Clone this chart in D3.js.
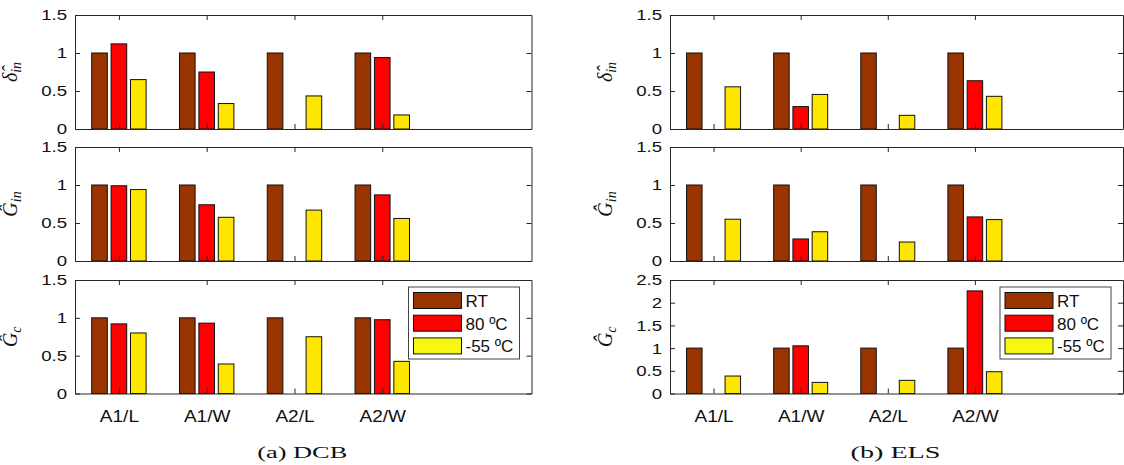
<!DOCTYPE html>
<html><head><meta charset="utf-8">
<script src="https://cdn.jsdelivr.net/npm/d3@7"></script>
<style>body{margin:0;background:#fff}svg{display:block}</style>
</head><body>
<svg id="c" width="1124" height="465"></svg>
<script>
// ---- data ----
const categories = ["A1/L", "A1/W", "A2/L", "A2/W"];
const seriesNames = ["RT", "80 ºC", "-55 ºC"];
const seriesColors = ["#993300", "#ff0000", "#ffe600"];
const legendColors = ["#993300", "#ff0000", "#f7f716"];
// values per category: [RT, 80 ºC, -55 ºC]
const dcbDeltaIn = [[1, 1.12, 0.65], [1, 0.75, 0.335], [1, 0, 0.435], [1, 0.94, 0.185]];
const dcbGin     = [[1, 0.99, 0.94], [1, 0.74, 0.575], [1, 0, 0.67], [1, 0.87, 0.56]];
const dcbGc      = [[1, 0.92, 0.80], [1, 0.93, 0.39], [1, 0, 0.75], [1, 0.975, 0.425]];
const elsDeltaIn = [[1, 0, 0.555], [1, 0.295, 0.455], [1, 0, 0.18], [1, 0.635, 0.43]];
const elsGin     = [[1, 0, 0.55], [1, 0.29, 0.385], [1, 0, 0.25], [1, 0.58, 0.545]];
const elsGc      = [[1, 0, 0.385], [1, 1.05, 0.245], [1, 0, 0.29], [1, 2.26, 0.48]];
const yTicksSmall = [0, 0.5, 1, 1.5];
const yTicksLarge = [0, 0.5, 1, 1.5, 2, 2.5];
const captions = ["(a) DCB", "(b) ELS"];

// ---- layout ----
const cols = [[75, 531.5], [670, 1123]];
const rows = [[15, 129], [147, 261], [280, 393.5]];
const panels = [
  {col: 0, row: 0, data: dcbDeltaIn, ticks: yTicksSmall, label: "delta"},
  {col: 0, row: 1, data: dcbGin, ticks: yTicksSmall, label: "gin"},
  {col: 0, row: 2, data: dcbGc, ticks: yTicksSmall, label: "gc", legend: true, xlabels: true},
  {col: 1, row: 0, data: elsDeltaIn, ticks: yTicksSmall, label: "delta"},
  {col: 1, row: 1, data: elsGin, ticks: yTicksSmall, label: "gin"},
  {col: 1, row: 2, data: elsGc, ticks: yTicksLarge, label: "gc", legend: true, xlabels: true},
];
const offsets = [-0.221, 0, 0.221];
const barW = 0.178;
const axisColor = "#262626";
const sans = "'Liberation Sans', Arial, Helvetica, sans-serif";
const serif = "'Liberation Serif', 'DejaVu Serif', serif";

const svg = d3.select("#c");

function stretch(sel, factor) {
  sel.each(function () {
    const len = this.getComputedTextLength();
    if (len > 0) d3.select(this).attr("textLength", len * factor).attr("lengthAdjust", "spacingAndGlyphs");
  });
}

panels.forEach(p => {
  const [x0, x1] = cols[p.col];
  const [y0, y1] = rows[p.row];
  const x = d3.scaleLinear().domain([0.5, 5.7]).range([x0, x1]);
  const y = d3.scaleLinear().domain([0, d3.max(p.ticks)]).range([y1, y0]);
  const g = svg.append("g");

  // bars
  p.data.forEach((vals, ci) => {
    vals.forEach((v, si) => {
      if (!v) return;
      const cx = ci + 1 + offsets[si];
      g.append("rect")
        .attr("x", x(cx - barW / 2))
        .attr("width", x(cx + barW / 2) - x(cx - barW / 2))
        .attr("y", y(v))
        .attr("height", y(0) - y(v))
        .attr("fill", seriesColors[si])
        .attr("stroke", "#111")
        .attr("stroke-width", 1);
    });
  });

  const tickVals = categories.map((c, i) => i + 1);
  const fmt = d => d3.format("")(d);
  const left = g.append("g").attr("transform", `translate(${x0},0)`)
    .call(d3.axisLeft(y).tickValues(p.ticks).tickSizeInner(-5).tickSizeOuter(0).tickPadding(8).tickFormat(fmt));
  const right = g.append("g").attr("transform", `translate(${x1},0)`)
    .call(d3.axisRight(y).tickValues(p.ticks).tickSizeInner(-5).tickSizeOuter(0).tickFormat(""));
  const bottom = g.append("g").attr("transform", `translate(0,${y1})`)
    .call(d3.axisBottom(x).tickValues(tickVals).tickSizeInner(-5).tickSizeOuter(0).tickPadding(16)
      .tickFormat(d => p.xlabels ? categories[d - 1] : ""));
  const top = g.append("g").attr("transform", `translate(0,${y0})`)
    .call(d3.axisTop(x).tickValues(tickVals).tickSizeInner(-5).tickSizeOuter(0).tickFormat(""));
  [left, right, bottom, top].forEach(a => {
    a.selectAll("path.domain").attr("stroke", axisColor).attr("stroke-width", 1);
    a.selectAll(".tick line").attr("stroke", axisColor);
  });
  left.selectAll("text").attr("font-family", sans).attr("font-size", 15.5).attr("fill", "#111");
  stretch(left.selectAll("text"), 1.2);
  bottom.selectAll("text").attr("font-family", sans).attr("font-size", 17).attr("fill", "#111");
  stretch(bottom.selectAll("text"), 1.12);

  // y label
  const lab = g.append("text")
    .attr("transform", `translate(${x0 - 58},${(y0 + y1) / 2}) rotate(-90)`)
    .attr("text-anchor", "middle")
    .attr("font-family", serif).attr("font-style", "italic").attr("fill", "#111");
  if (p.label === "delta") {
    lab.append("tspan").attr("font-size", 20).text("δ\u0302");
    lab.append("tspan").attr("font-size", 14).attr("dy", 4).text("in");
  } else if (p.label === "gin") {
    lab.append("tspan").attr("font-size", 20).text("Ĝ");
    lab.append("tspan").attr("font-size", 14).attr("dy", 4).text("in");
  } else {
    lab.append("tspan").attr("font-size", 20).text("Ĝ");
    lab.append("tspan").attr("font-size", 14).attr("dy", 4).text("c");
  }

  // legend
  if (p.legend) {
    const lx = x1 - 123, ly = 287;
    const lg = g.append("g");
    lg.append("rect").attr("x", lx).attr("y", ly).attr("width", 111).attr("height", 72)
      .attr("fill", "#fff").attr("stroke", "#444").attr("stroke-width", 1);
    seriesNames.forEach((n, i) => {
      const sy = ly + 5.5 + i * 22.7;
      lg.append("rect").attr("x", lx + 5).attr("y", sy).attr("width", 48).attr("height", 16)
        .attr("fill", legendColors[i]).attr("stroke", "#111").attr("stroke-width", 1);
      lg.append("text").attr("x", lx + 57).attr("y", sy + 14.5)
        .attr("font-family", sans).attr("font-size", 17).attr("fill", "#111").text(n);
    });
  }
});

// captions
captions.forEach((c, i) => {
  const t = svg.append("text")
    .attr("x", (cols[i][0] + cols[i][1]) / 2 - 1)
    .attr("y", 458)
    .attr("text-anchor", "middle")
    .attr("font-family", serif).attr("font-size", 17).attr("fill", "#111")
    .text(c);
  const len = t.node().getComputedTextLength();
  t.attr("textLength", 90).attr("lengthAdjust", "spacingAndGlyphs");
});
</script>
</body></html>
